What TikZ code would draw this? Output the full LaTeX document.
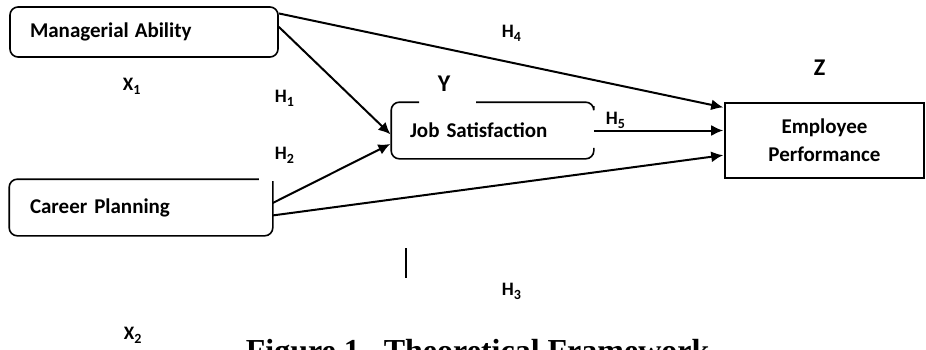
\documentclass[tikz,border=0pt]{standalone}
\usepackage{fontspec}
\setmainfont{Carlito}
\newfontfamily\capfont{Liberation Serif}
\usetikzlibrary{arrows.meta,calc}

\newcommand{\lowsub}[1]{\raisebox{-4pt}{\fontsize{14}{14}\selectfont #1}}

\begin{document}
\begin{tikzpicture}[x=1pt,y=-1pt,line width=1.6pt,
                    >={Latex[length=12pt,width=11pt]},
                    box/.style={draw,rounded corners=8pt,inner xsep=20pt,inner ysep=0pt,
                                align=left,font=\fontsize{21}{28}\selectfont\bfseries},
                    var label/.style={anchor=base west,inner sep=0pt,font=\fontsize{24}{26}\selectfont\bfseries},
                    hyp label/.style={anchor=base west,inner sep=0pt,font=\fontsize{19}{21}\selectfont\bfseries},
                    link/.style={->,line width=2pt,shorten >=1pt}]

  \useasboundingbox (0,0) rectangle (926,349);

  % variables
  \node[box,text width=228pt,minimum height=50pt] (ma) at (144,32) {Managerial\hspace{6pt}Ability};
  \node[box,draw=none,text width=222pt,minimum height=55pt] (cp) at (141,207.5) {Career Planning};
  \node[box,draw=none,inner xsep=18pt,text width=165pt,minimum height=55pt] (js) at (492.5,130.5) {Job Satisfaction};
  \node[box,sharp corners,align=center,text width=159pt,minimum height=75pt] (ep) at (824.5,140.5) {Employee\\Performance};

  % broken outlines
  \draw[rounded corners=8pt] ($(cp.north east)+(-14,0)$) -| (cp.south west) -| ($(cp.north east)+(0,2)$);
  \draw[rounded corners=8pt] ($(js.north west)+(28,0)$) -| (js.south west) -| ($(js.south east)+(0,-11)$);
  \draw[rounded corners=8pt] ($(js.north west)+(85,0)$) -| ($(js.north east)+(0,4)$);

  % labels
  \node[hyp label] (x1) at (122,90) {X\lowsub{1}};
  \node[hyp label] (x2) at (123,339) {X\lowsub{2}};
  \node[var label] (y) at (437,91) {Y};
  \node[var label] (z) at (813,75) {Z};
  \node[hyp label] (h1) at (274,102) {H\lowsub{1}};
  \node[hyp label] (h2) at (274,159) {H\lowsub{2}};
  \node[hyp label] (h3) at (501,295) {H\lowsub{3}};
  \node[hyp label] (h4) at (501,37) {H\lowsub{4}};
  \node[hyp label] (h5) at (605,124) {H\lowsub{5}};

  % paths
  \draw[link] ($(ma.north east)!0.14!(ma.south east)$) -- ($(ep.north west)!0.07!(ep.south west)$);
  \draw[link] ($(ma.north east)!0.4!(ma.south east)$) -- ($(js.north west)!0.58!(js.south west)$);
  \draw[link] ($(cp.north east)!0.42!(cp.south east)$) -- ($(js.north west)!0.73!(js.south west)$);
  \draw[link] ($(cp.north east)!0.64!(cp.south east)$) -- ($(ep.north west)!0.69!(ep.south west)$);
  \draw[link] (js.east) -- (ep.west |- js.east);

  \coordinate (tick top) at (406,248);
  \coordinate (tick bottom) at (406,278);
  \draw[line width=2pt] (tick top) -- (tick bottom);

  \node[anchor=base west,inner sep=0pt,font=\capfont\bfseries\fontsize{32}{36}\selectfont] (caption) at (245,361)
    {Figure 1.\ \ Theoretical Framework};
\end{tikzpicture}
\end{document}
